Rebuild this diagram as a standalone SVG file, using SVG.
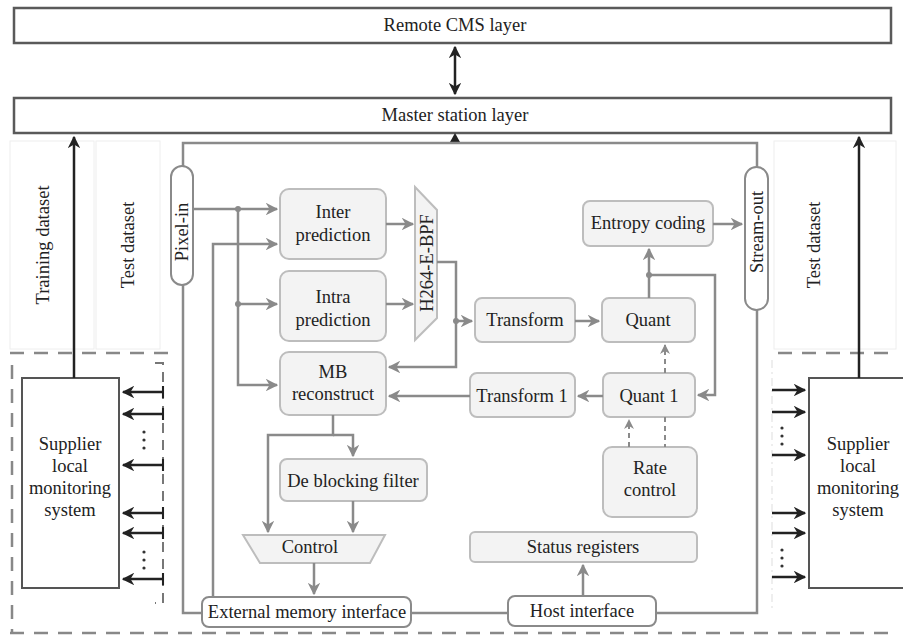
<svg xmlns="http://www.w3.org/2000/svg" width="903" height="637" viewBox="0 0 903 637" font-family="'Liberation Serif', 'Times New Roman', 'DejaVu Serif', serif">
<style>
text{font-family:"Liberation Serif","Times New Roman","DejaVu Serif",serif;font-size:18.5px;fill:#222;text-anchor:middle;dominant-baseline:central}
.layer{fill:#fff;stroke:#5a5a5a;stroke-width:2.5}
.blk{fill:#f3f3f3;stroke:#bdbdbd;stroke-width:2}
.pill{fill:#fff;stroke:#8a8a8a;stroke-width:2}
.sup{fill:#fff;stroke:#555;stroke-width:2}
.g{fill:none;stroke:#8a8a8a;stroke-width:2.5}
.gd{fill:none;stroke:#8a8a8a;stroke-width:2;stroke-dasharray:5 4}
.k{fill:none;stroke:#222;stroke-width:2.5}
.dash{fill:none;stroke:#888;stroke-width:2.5;stroke-dasharray:14 10}
.faint{fill:#fff;stroke:#eee;stroke-width:1}
.dot{fill:#8a8a8a}
.kdot{fill:#333}
</style>
<defs>
<marker id="ga" viewBox="0 0 10 10" refX="9" refY="5" markerWidth="5" markerHeight="5" orient="auto" markerUnits="strokeWidth"><path d="M0,0 L10,5 L0,10 L3,5 z" fill="#8a8a8a"/></marker>
<marker id="ka" viewBox="0 0 10 10" refX="9" refY="5" markerWidth="5" markerHeight="5" orient="auto" markerUnits="strokeWidth"><path d="M0,0 L10,5 L0,10 L3,5 z" fill="#222"/></marker>
<marker id="ks" viewBox="0 0 10 10" refX="1" refY="5" markerWidth="5" markerHeight="5" orient="auto" markerUnits="strokeWidth"><path d="M10,0 L0,5 L10,10 L7,5 z" fill="#222"/></marker>
<marker id="tick" viewBox="0 0 4 12" refX="2" refY="6" markerWidth="3" markerHeight="5" orient="auto" markerUnits="strokeWidth"><path d="M2,0 V12" stroke="#222" stroke-width="2"/></marker>
</defs>

<!-- faint panels -->
<rect class="faint" x="10" y="141" width="84" height="208"/>
<rect class="faint" x="96" y="141" width="64" height="208"/>
<rect class="faint" x="774" y="141" width="122" height="208"/>

<g id="regions">
<path class="dash" d="M10,353 H168"/>
<path class="dash" d="M12,365 V632"/>
<path class="dash" d="M10,633 H895"/>
<path class="dash" d="M778,353 H895"/>
<path fill="none" stroke="#777" stroke-width="2" stroke-dasharray="10 7" d="M155,363 H163 V603 H155"/>
<path fill="none" stroke="#ddd" stroke-width="1" stroke-dasharray="8 4 2 4" d="M772,360 V612"/>
</g>

<g id="remote-cms"><rect class="layer" x="14" y="8" width="877" height="35"/><text x="455" y="25">Remote CMS layer</text></g>
<g id="master-station"><rect class="layer" x="14" y="98" width="877" height="35"/><text x="455" y="115">Master station layer</text></g>

<g id="training-dataset"><text transform="translate(43,245) rotate(-90)">Training dataset</text></g>
<g id="test-dataset-left"><text transform="translate(128,245) rotate(-90)">Test dataset</text></g>
<g id="test-dataset-right"><text transform="translate(814,245) rotate(-90)">Test dataset</text></g>

<g id="supplier-left"><rect class="sup" x="22" y="378" width="97" height="210"/>
<text x="70" y="444">Supplier</text><text x="70" y="466">local</text><text x="70" y="488">monitoring</text><text x="70" y="510">system</text></g>
<g id="supplier-right"><rect class="sup" x="809" y="378" width="100" height="210"/>
<text x="858" y="444">Supplier</text><text x="858" y="466">local</text><text x="858" y="488">monitoring</text><text x="858" y="510">system</text></g>

<g id="pixel-in"><rect class="pill" x="171" y="166" width="22" height="119" rx="11"/><text transform="translate(182,232) rotate(-90)">Pixel-in</text></g>
<g id="stream-out"><rect class="pill" x="745" y="167" width="23" height="143" rx="11.5"/><text transform="translate(757,232) rotate(-90)">Stream-out</text></g>

<g id="inter-prediction"><rect class="blk" x="280" y="189" width="106" height="70" rx="9"/><text x="333" y="212">Inter</text><text x="333" y="235">prediction</text></g>
<g id="intra-prediction"><rect class="blk" x="280" y="271" width="106" height="70" rx="9"/><text x="333" y="297">Intra</text><text x="333" y="320">prediction</text></g>
<g id="mb-reconstruct"><rect class="blk" x="280" y="352" width="106" height="63" rx="9"/><text x="333" y="372">MB</text><text x="333" y="394">reconstruct</text></g>
<g id="h264"><path class="blk" d="M415,187 L437,210 L437,318 L415,340 Z"/><text transform="translate(427,263) rotate(-90)">H264-E-BPF</text></g>
<g id="transform"><rect class="blk" x="475" y="298" width="100" height="44" rx="7"/><text x="525" y="320">Transform</text></g>
<g id="quant"><rect class="blk" x="602" y="298" width="93" height="44" rx="7"/><text x="648" y="320">Quant</text></g>
<g id="entropy-coding"><rect class="blk" x="583" y="201" width="130" height="45" rx="7"/><text x="648" y="223">Entropy coding</text></g>
<g id="quant1"><rect class="blk" x="603" y="373" width="92" height="44" rx="7"/><text x="649" y="396">Quant 1</text></g>
<g id="transform1"><rect class="blk" x="470" y="373" width="105" height="44" rx="7"/><text x="522" y="396">Transform 1</text></g>
<g id="rate-control"><rect class="blk" x="603" y="447" width="94" height="70" rx="9"/><text x="650" y="468">Rate</text><text x="650" y="490">control</text></g>
<g id="deblocking"><rect class="blk" x="280" y="459" width="147" height="42" rx="7"/><text x="353" y="481">De blocking filter</text></g>
<g id="control"><path class="blk" d="M243,535 L385,535 L370,563 L260,563 Z"/><text x="310" y="547">Control</text></g>
<g id="status-registers"><rect class="blk" x="470" y="532" width="227" height="30" rx="5"/><text x="583" y="547">Status registers</text></g>
<g id="external-memory"><rect class="pill" x="202" y="597" width="209" height="30" rx="7"/><text x="307" y="612">External memory interface</text></g>
<g id="host-interface"><rect class="pill" x="508" y="596" width="148" height="30" rx="7"/><text x="582" y="611">Host interface</text></g>

<g id="connectors">
<path class="k" d="M455,47 V94" marker-start="url(#ks)" marker-end="url(#ka)"/>
<path d="M450,142 L455,133 L460,142 Z" fill="#222"/>
<path class="k" d="M74,378 V137" marker-end="url(#ka)"/>
<path class="k" d="M859,378 V137" marker-end="url(#ka)"/>
<path class="k" d="M123,392 H163" marker-start="url(#ks)" marker-end="url(#tick)"/>
<path class="k" d="M123,414 H163" marker-start="url(#ks)" marker-end="url(#tick)"/>
<path class="k" d="M123,465 H163" marker-start="url(#ks)" marker-end="url(#tick)"/>
<path class="k" d="M123,513 H163" marker-start="url(#ks)" marker-end="url(#tick)"/>
<path class="k" d="M123,533 H163" marker-start="url(#ks)" marker-end="url(#tick)"/>
<path class="k" d="M123,579 H163" marker-start="url(#ks)" marker-end="url(#tick)"/>
<circle class="kdot" cx="144" cy="432" r="1.6"/><circle class="kdot" cx="144" cy="440" r="1.6"/><circle class="kdot" cx="144" cy="448" r="1.6"/>
<circle class="kdot" cx="144" cy="552" r="1.6"/><circle class="kdot" cx="144" cy="560" r="1.6"/><circle class="kdot" cx="144" cy="568" r="1.6"/>
<path class="k" d="M772,390 H805" marker-end="url(#ka)"/>
<path class="k" d="M772,412 H805" marker-end="url(#ka)"/>
<path class="k" d="M772,455 H805" marker-end="url(#ka)"/>
<path class="k" d="M772,513 H805" marker-end="url(#ka)"/>
<path class="k" d="M772,533 H805" marker-end="url(#ka)"/>
<path class="k" d="M772,577 H805" marker-end="url(#ka)"/>
<circle class="kdot" cx="782" cy="428" r="1.6"/><circle class="kdot" cx="782" cy="436" r="1.6"/><circle class="kdot" cx="782" cy="444" r="1.6"/>
<circle class="kdot" cx="782" cy="550" r="1.6"/><circle class="kdot" cx="782" cy="558" r="1.6"/><circle class="kdot" cx="782" cy="566" r="1.6"/>
<path class="g" d="M183,166 V143 H757 V167"/>
<path class="g" d="M183,285 V613 H202"/>
<path class="g" d="M411,613 H508"/>
<path class="g" d="M656,613 H757 V310"/>
<path class="g" d="M193,209 H277" marker-end="url(#ga)"/>
<path class="g" d="M238,209 V385 H277" marker-end="url(#ga)"/>
<path class="g" d="M238,304 H277" marker-end="url(#ga)"/>
<circle class="dot" cx="238" cy="209" r="3"/><circle class="dot" cx="238" cy="304" r="3"/>
<path class="g" d="M213,597 V244 H277" marker-end="url(#ga)"/>
<path class="g" d="M386,224 H413" marker-end="url(#ga)"/>
<path class="g" d="M386,304 H413" marker-end="url(#ga)"/>
<path class="g" d="M437,262 H456 V367 H389" marker-end="url(#ga)"/>
<path class="g" d="M456,321 H472" marker-end="url(#ga)"/>
<circle class="dot" cx="456" cy="321" r="3"/>
<path class="g" d="M575,321 H599" marker-end="url(#ga)"/>
<path class="g" d="M649,298 V249" marker-end="url(#ga)"/>
<path class="g" d="M649,275 H715 V395 H698" marker-end="url(#ga)"/>
<circle class="dot" cx="649" cy="275" r="3"/>
<path class="g" d="M713,224 H742" marker-end="url(#ga)"/>
<path class="g" d="M603,396 H578" marker-end="url(#ga)"/>
<path class="g" d="M470,396 H389" marker-end="url(#ga)"/>
<path class="gd" d="M665,373 V345" marker-end="url(#ga)"/>
<path class="gd" d="M629,447 V420" marker-end="url(#ga)"/>
<path class="gd" d="M665,417 V447"/>
<path class="g" d="M333,415 V435 H268 V532" marker-end="url(#ga)"/>
<path class="g" d="M333,435 H353 V456" marker-end="url(#ga)"/>
<path class="g" d="M353,501 V532" marker-end="url(#ga)"/>
<path class="g" d="M314,563 V594" marker-end="url(#ga)"/>
<path class="g" d="M583,596 V565" marker-end="url(#ga)"/>
</g>
</svg>
